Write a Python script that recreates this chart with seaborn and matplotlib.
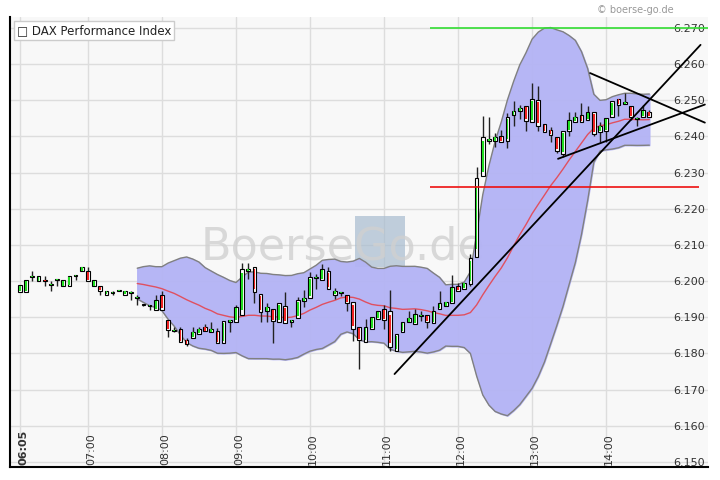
import numpy as np
import pandas as pd
import matplotlib
matplotlib.use("Agg")
import matplotlib.pyplot as plt
import seaborn as sns

opens = [6197.0,6197.0,6201.1,6200.0,6200.3,6198.9,6200.3,6198.6,6198.6,6201.4,
         6202.8,6202.8,6198.6,6198.6,6196.2,6196.7,6197.3,6196.2,6196.7,6195.3,
         6193.5,6193.2,6192.0,6196.2,6189.2,6186.2,6186.8,6183.7,6184.3,6185.4,
         6187.3,6185.9,6186.2,6182.9,6188.7,6188.7,6190.6,6202.8,6203.9,6196.4,
         6191.7,6192.3,6188.7,6193.1,6188.7,6189.8,6194.5,6195.3,6200.9,6200.3,
         6202.8,6196.2,6196.7,6196.2,6194.2,6187.3,6183.2,6186.8,6189.5,6192.3,
         6191.7,6180.7,6185.9,6188.7,6188.1,6190.4,6190.6,6188.4,6192.3,6193.1,
         6193.9,6198.6,6197.8,6199.2,6206.7,6229.1,6238.7,6238.7,6240.1,6238.7,
         6245.9,6247.0,6248.4,6244.0,6250.1,6243.4,6241.8,6239.9,6235.1,6241.5,
         6244.0,6245.9,6244.6,6246.8,6241.2,6241.5,6245.4,6250.4,6249.0,6248.4,
         6244.8,6245.4,6246.8]
highs = [6198.9,6200.3,6202.8,6201.4,6201.4,6200.0,6200.3,6200.3,6201.4,6201.4,
         6203.9,6203.9,6200.3,6198.6,6197.3,6197.3,6197.3,6197.3,6197.3,6196.2,
         6193.5,6193.2,6196.2,6197.3,6189.2,6187.3,6187.3,6184.3,6187.3,6187.3,
         6188.2,6188.7,6187.0,6189.0,6189.2,6193.5,6205.0,6205.0,6203.9,6196.4,
         6193.9,6192.3,6193.9,6197.0,6189.2,6195.6,6197.6,6202.5,6202.0,6204.7,
         6203.9,6198.1,6196.7,6196.2,6194.2,6187.3,6189.5,6190.1,6191.7,6193.5,
         6197.6,6185.4,6188.7,6191.7,6192.3,6191.7,6190.6,6193.1,6197.3,6194.2,
         6201.7,6199.5,6199.5,6207.5,6231.6,6245.7,6245.4,6240.8,6241.8,6246.5,
         6249.8,6248.7,6248.4,6254.8,6254.0,6243.4,6242.6,6239.9,6241.5,6246.7,
         6246.7,6249.3,6248.4,6246.8,6244.0,6245.1,6249.8,6250.4,6252.1,6248.4,
         6245.4,6248.7,6247.3]
lows = [6197.0,6197.0,6200.0,6200.0,6198.6,6197.3,6198.6,6198.6,6198.6,6200.3,
        6202.8,6200.0,6198.6,6196.2,6196.2,6196.2,6197.3,6196.2,6194.8,6193.5,
        6193.2,6192.1,6192.0,6192.0,6184.6,6185.9,6183.2,6182.1,6184.3,6185.4,
        6186.2,6185.9,6182.9,6182.9,6185.9,6188.7,6190.6,6200.6,6193.9,6188.7,
        6188.7,6182.9,6188.7,6188.4,6187.3,6189.8,6192.9,6195.3,6197.8,6200.3,
        6197.8,6195.1,6195.9,6191.7,6183.4,6175.7,6183.2,6186.8,6189.5,6186.8,
        6180.7,6180.7,6185.9,6188.7,6188.1,6189.0,6187.0,6188.4,6192.3,6193.1,
        6193.9,6197.3,6197.8,6198.6,6206.7,6229.1,6237.9,6237.1,6238.5,6236.8,
        6242.9,6244.8,6241.5,6244.0,6241.5,6241.2,6238.5,6235.4,6234.3,6240.1,
        6244.0,6244.0,6244.6,6240.1,6238.5,6238.5,6245.4,6245.7,6249.0,6244.6,
        6242.9,6245.4,6245.4]
closes = [6198.9,6200.3,6201.4,6201.4,6200.0,6198.9,6200.3,6200.3,6201.4,6201.4,
          6203.9,6200.0,6200.3,6197.3,6197.3,6196.7,6197.3,6197.3,6196.7,6195.3,
          6193.5,6193.2,6194.8,6192.0,6186.5,6186.2,6183.2,6182.6,6186.0,6186.8,
          6186.2,6186.8,6182.9,6189.0,6189.2,6192.9,6203.4,6203.4,6197.0,6191.5,
          6192.9,6189.0,6193.9,6188.4,6189.2,6194.8,6195.3,6201.1,6200.9,6203.4,
          6197.8,6197.3,6196.7,6193.9,6186.8,6183.7,6187.3,6190.1,6191.7,6189.2,
          6181.8,6185.4,6188.7,6189.8,6190.9,6190.4,6188.7,6191.7,6193.9,6194.2,
          6198.4,6197.3,6199.5,6206.4,6228.5,6239.9,6239.3,6239.9,6238.5,6245.4,
          6247.0,6247.9,6244.3,6250.4,6242.9,6241.2,6240.4,6236.0,6241.5,6244.6,
          6245.4,6244.0,6246.8,6240.7,6242.9,6245.1,6249.8,6248.7,6249.5,6245.4,
          6244.8,6247.3,6245.4]

tick_labels = ["06:05", "07:00", "08:00", "09:00", "10:00", "11:00", "12:00", "13:00", "14:00"]
tick_idx = [0, 11, 23, 35, 47, 59, 71, 83, 95]
y_ticks = [6150, 6160, 6170, 6180, 6190, 6200, 6210, 6220, 6230, 6240, 6250, 6260, 6270]
trend_lines = [((60.7, 6174.3), (110.3, 6265.3)),
               ((87.2, 6233.8), (111.0, 6248.8)),
               ((92.4, 6257.5), (111.0, 6243.8))]
green_level = 6270.0
red_level = 6226.0

df = pd.DataFrame({"o": opens, "h": highs, "l": lows, "c": closes})
df["i"] = np.arange(len(df))
mid = df["c"].rolling(20).mean()
sd = df["c"].rolling(20).std(ddof=0)
df["mid"] = mid
df["up"] = mid + 2 * sd
df["lo"] = mid - 2 * sd

sns.set_style("white")
plt.rcParams['font.family'] = ['DejaVu Sans']
fig = plt.figure(figsize=(7.2, 4.81), dpi=100)
ax = fig.add_axes([10/720, 13/481, 698/720, 450/481])
ax.set_facecolor("#f8f8f8")
x0 = (10-20)/6.17
ax.set_xlim(x0, x0 + 698/6.17)
ax.set_ylim(6148.6, 6273.0)

for v in tick_idx:
    ax.axvline(v, color="#dddddd", lw=1, zorder=0)
for v in y_ticks:
    ax.axhline(v, color="#dddddd", lw=1, zorder=0)

# watermark
ax.fill_between([54.3, 62.4], 6203.9, 6218.0, color="#a8bccf", alpha=0.7, zorder=0.5, lw=0)
ax.text(0.477, 0.49, "BoerseGo.de", transform=ax.transAxes, fontsize=32, color="#d0d0d0",
        ha="center", va="center", alpha=0.8, zorder=0.6)

b = df.dropna()
ax.fill_between(b["i"], b["lo"], b["up"], color="#b3b3f5", alpha=0.95, zorder=1)
ax.plot(b["i"], b["up"], color="#808080", lw=1, zorder=2)
ax.plot(b["i"], b["lo"], color="#808080", lw=1, zorder=2)
sns.lineplot(x=b["i"], y=b["mid"], color="#e05060", lw=1, ax=ax, zorder=2)

ax.vlines(df["i"], df["l"], df["h"], color="#222222", lw=1, zorder=3)
body_b = np.minimum(df["o"], df["c"])
body_h = np.maximum(np.abs(df["c"] - df["o"]), 0.25)
cols = np.where(df["c"] >= df["o"], "#22dd22", "#ee2222")
ax.bar(df["i"], body_h, bottom=body_b, width=0.6, color="white", edgecolor="black", lw=0.8, zorder=4)
ax.bar(df["i"], body_h * 0.8, bottom=body_b + body_h * 0.1, width=0.28, color=cols, lw=0, zorder=4.5)

ax.hlines(green_level, 66.5, 112, color="#33dd33", lw=1.2, zorder=5)
ax.hlines(red_level, 66.5, 110, color="#ee1111", lw=1.2, zorder=5)
for (a, c) in trend_lines:
    ax.plot([a[0], c[0]], [a[1], c[1]], color="black", lw=1.3, zorder=5)

ax.set_yticks(y_ticks)
ax.set_yticklabels([])
ax.set_xticks(tick_idx)
ax.set_xticklabels([])
ax.tick_params(length=0)
for v in y_ticks:
    ax.text(x0 + 695/6.17, v, f"{v/1000:.3f}", ha="right", va="center", fontsize=8, color="#333333")
for v, t in zip(tick_idx, tick_labels):
    ax.text(v + 0.5, 6149.5, t, rotation=90, ha="center", va="bottom", fontsize=8,
            color="#333333", fontweight="bold" if t == "06:05" else "normal")

for s in ["top", "right"]:
    ax.spines[s].set_visible(False)
for s in ["left", "bottom"]:
    ax.spines[s].set_color("black")
    ax.spines[s].set_linewidth(1.5)
ax.set_xlabel("")
ax.set_ylabel("")

ax.text(0.01, 0.985, "\u25a1 DAX Performance Index", transform=ax.transAxes, fontsize=8.5,
        va="top", ha="left", color="#222222",
        bbox=dict(facecolor="white", edgecolor="#cccccc", pad=2))
fig.text(0.935, 0.99, "\u00a9 boerse-go.de", fontsize=7, color="#999999", ha="right", va="top")

fig.savefig("out.png", dpi=100)
